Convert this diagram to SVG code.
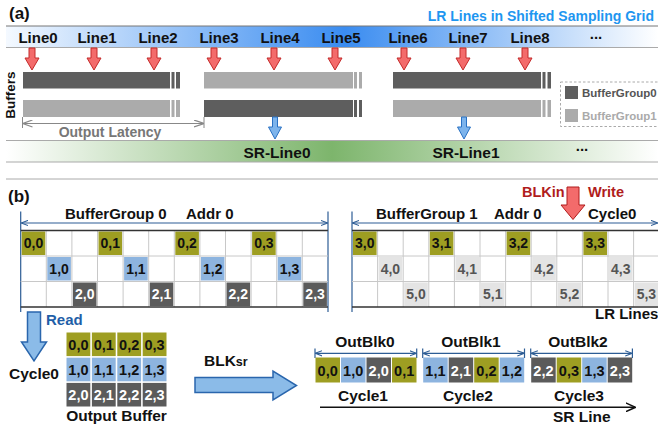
<svg xmlns="http://www.w3.org/2000/svg" width="658" height="435" viewBox="0 0 658 435">
<defs>
<style>
text{font-family:"Liberation Sans",Arial,sans-serif;font-weight:bold;fill:#111}
.lbl{font-size:15px;text-anchor:middle}
.c{font-size:14px;text-anchor:middle}
.cw{font-size:14px;text-anchor:middle;fill:#fff}
.cg{font-size:14px;text-anchor:middle;fill:#555}
.ol{fill:#9e9e22}
.bl{fill:#8db4df}
.dk{fill:#5b5b5b}
.lg{fill:#e4e4e4}
.barD{fill:#5e5e5e}
.barL{fill:#ababab}
.gl{stroke:#c8c8c8;stroke-width:1;fill:none}
.edge{stroke:#333;stroke-width:1.5;fill:none}
.vb{stroke:#2d5d95;stroke-width:1.2;fill:none}
.dim{stroke:#2d5d95;stroke-width:1.2;fill:none;marker-start:url(#mb);marker-end:url(#mb)}
.red{fill:#f36b6b;stroke:#c42a2a;stroke-width:1}
.blu{fill:#7db4ec;stroke:#2a72c4;stroke-width:1}
.bigb{fill:#8bbbe8;stroke:#2a66ad;stroke-width:1.5}
</style>
<linearGradient id="gB" gradientUnits="userSpaceOnUse" x1="6" y1="0" x2="658" y2="0">
<stop offset="0" stop-color="#f4f9ff"/><stop offset="0.52" stop-color="#3a8cf0"/><stop offset="1" stop-color="#ffffff"/>
</linearGradient>
<linearGradient id="gG" gradientUnits="userSpaceOnUse" x1="6" y1="0" x2="658" y2="0">
<stop offset="0" stop-color="#ffffff"/><stop offset="0.5" stop-color="#7db56c"/><stop offset="1" stop-color="#ffffff"/>
</linearGradient>
<marker id="mb" viewBox="0 0 8 8" refX="7.5" refY="4" markerWidth="7" markerHeight="7" markerUnits="userSpaceOnUse" orient="auto-start-reverse">
<path d="M0,1 L8,4 L0,7" fill="none" stroke="#2d5d95" stroke-width="1.2"/>
</marker>
<marker id="mg" viewBox="0 0 10 8" refX="9.5" refY="4" markerWidth="10" markerHeight="8" markerUnits="userSpaceOnUse" orient="auto-start-reverse">
<path d="M0,0.5 L10,4 L0,7.5" fill="none" stroke="#888" stroke-width="1.2"/>
</marker>
<marker id="mk" viewBox="0 0 10 10" refX="9.5" refY="5" markerWidth="10" markerHeight="10" markerUnits="userSpaceOnUse" orient="auto">
<path d="M0,0.5 L10,5 L0,9.5" fill="none" stroke="#111" stroke-width="1.5"/>
</marker>
<path id="ra" class="red" d="M-3,0 h6 v10 h4 l-7,12 l-7,-12 h4 z"/>
<path id="ba" class="blu" d="M-2.5,0 h5 v10 h4 l-6.5,12 l-6.5,-12 h4 z"/>
</defs>

<!-- (a) -->
<g id="part-a">
<text x="9" y="19" style="font-size:17px">(a)</text>
<text x="654" y="21" style="font-size:14px;text-anchor:end;fill:#1e96f0">LR Lines in Shifted Sampling Grid</text>
<g id="lr-band">
<rect x="6" y="26" width="652" height="21.5" fill="url(#gB)"/>
<line x1="6" y1="26" x2="658" y2="26" stroke="#777" stroke-width="1"/>
<line x1="6" y1="47.5" x2="658" y2="47.5" stroke="#aaa" stroke-width="1"/>
<text class="lbl" x="38" y="43">Line0</text>
<text class="lbl" x="97" y="43">Line1</text>
<text class="lbl" x="158" y="43">Line2</text>
<text class="lbl" x="219" y="43">Line3</text>
<text class="lbl" x="280" y="43">Line4</text>
<text class="lbl" x="341" y="43">Line5</text>
<text class="lbl" x="408" y="43">Line6</text>
<text class="lbl" x="468" y="43">Line7</text>
<text class="lbl" x="530" y="43">Line8</text>
<text class="lbl" x="596" y="39">...</text>
</g>
<g id="lr-arrows">
<use href="#ra" x="32" y="48"/>
<use href="#ra" x="94" y="48"/>
<use href="#ra" x="154" y="48"/>
<use href="#ra" x="214" y="48"/>
<use href="#ra" x="274" y="48"/>
<use href="#ra" x="335" y="48"/>
<use href="#ra" x="404" y="48"/>
<use href="#ra" x="463" y="48"/>
<use href="#ra" x="525" y="48"/>
</g>
<text transform="translate(15,95) rotate(-90)" style="font-size:13.5px;text-anchor:middle">Buffers</text>
<g id="buffers">
<rect class="barD" x="23" y="72" width="147" height="16.5"/>
<rect class="barD" x="171.5" y="72" width="3" height="16.5"/>
<rect class="barD" x="176" y="72" width="4" height="16.5"/>
<rect class="barL" x="23" y="100" width="147" height="17"/>
<rect class="barL" x="171.5" y="100" width="3" height="17"/>
<rect class="barL" x="176" y="100" width="4" height="17"/>
<rect class="barL" x="204" y="72" width="149" height="16.5"/>
<rect class="barL" x="354" y="72" width="3" height="16.5"/>
<rect class="barL" x="359" y="72" width="3" height="16.5"/>
<rect class="barD" x="204" y="100" width="149" height="17"/>
<rect class="barD" x="354" y="100" width="3" height="17"/>
<rect class="barD" x="359" y="100" width="3" height="17"/>
<rect class="barD" x="393" y="72" width="148" height="16.5"/>
<rect class="barD" x="542.5" y="72" width="3" height="16.5"/>
<rect class="barD" x="547.5" y="72" width="3.5" height="16.5"/>
<rect class="barL" x="393" y="100" width="148" height="17"/>
<rect class="barL" x="542.5" y="100" width="3" height="17"/>
<rect class="barL" x="547.5" y="100" width="3.5" height="17"/>
</g>
<g id="legend">
<rect x="560.5" y="82" width="100" height="44.5" fill="none" stroke="#aaa" stroke-width="1" stroke-dasharray="2.5,2"/>
<rect class="barD" x="565" y="86" width="13" height="13"/>
<rect class="barL" x="565" y="109" width="13" height="13"/>
<text x="582" y="97" style="font-size:11.5px;fill:#555">BufferGroup0</text>
<text x="582" y="120" style="font-size:11.5px;fill:#aaa">BufferGroup1</text>
</g>
<g id="latency">
<line x1="22.5" y1="117" x2="22.5" y2="128" stroke="#888" stroke-width="1"/>
<line x1="204" y1="117" x2="204" y2="128" stroke="#888" stroke-width="1"/>
<line x1="23" y1="123.5" x2="203.5" y2="123.5" stroke="#888" stroke-width="1.2" marker-start="url(#mg)" marker-end="url(#mg)"/>
<text x="110" y="137" style="font-size:14px;text-anchor:middle;fill:#777">Output Latency</text>
</g>
<g id="sr-arrows">
<use href="#ba" x="275" y="117"/>
<use href="#ba" x="464" y="117"/>
</g>
<g id="sr-band">
<rect x="6" y="140.5" width="652" height="21.5" fill="url(#gG)"/>
<line x1="6" y1="140.5" x2="658" y2="140.5" stroke="#aaa" stroke-width="1"/>
<line x1="6" y1="162" x2="658" y2="162" stroke="#aaa" stroke-width="1"/>
<line x1="6" y1="179" x2="658" y2="179" stroke="#aaa" stroke-width="1"/>
<text x="277" y="158" style="font-size:15.5px;text-anchor:middle">SR-Line0</text>
<text x="466" y="158" style="font-size:15.5px;text-anchor:middle">SR-Line1</text>
<text x="582" y="151" style="font-size:15px;text-anchor:middle">...</text>
</g>
</g>

<!-- (b) -->
<g id="part-b">
<text x="8" y="202" style="font-size:17px">(b)</text>

<g id="grid-left">
<line class="vb" x1="20.7" y1="211.5" x2="20.7" y2="312"/>
<line class="vb" x1="328" y1="211.5" x2="328" y2="312"/>
<line class="dim" x1="21.5" y1="223" x2="327.2" y2="223"/>
<text x="65" y="219" style="font-size:15px">BufferGroup 0</text>
<text x="186" y="219" style="font-size:15px">Addr 0</text>
<path class="gl" d="M20.7,256 H327.9 M20.7,281.5 H327.9 M46.3,230.5 V307 M71.9,230.5 V307 M97.5,230.5 V307 M123.1,230.5 V307 M148.7,230.5 V307 M174.3,230.5 V307 M199.9,230.5 V307 M225.5,230.5 V307 M251.1,230.5 V307 M276.7,230.5 V307 M302.3,230.5 V307"/>
<rect class="ol" x="21.7" y="231.5" width="23.6" height="23.5"/>
<rect class="ol" x="98.5" y="231.5" width="23.6" height="23.5"/>
<rect class="ol" x="175.3" y="231.5" width="23.6" height="23.5"/>
<rect class="ol" x="252.1" y="231.5" width="23.6" height="23.5"/>
<rect class="bl" x="47.3" y="257" width="23.6" height="23.5"/>
<rect class="bl" x="124.1" y="257" width="23.6" height="23.5"/>
<rect class="bl" x="200.9" y="257" width="23.6" height="23.5"/>
<rect class="bl" x="277.7" y="257" width="23.6" height="23.5"/>
<rect class="dk" x="72.9" y="282.5" width="23.6" height="23.5"/>
<rect class="dk" x="149.7" y="282.5" width="23.6" height="23.5"/>
<rect class="dk" x="226.5" y="282.5" width="23.6" height="23.5"/>
<rect class="dk" x="303.3" y="282.5" width="23.6" height="23.5"/>
<path class="edge" d="M20.7,230.5 H327.9 M20.7,307 H327.9"/>
<text class="c" x="33.5" y="248">0,0</text>
<text class="c" x="110.3" y="248">0,1</text>
<text class="c" x="187.1" y="248">0,2</text>
<text class="c" x="263.9" y="248">0,3</text>
<text class="c" x="59.1" y="273.5">1,0</text>
<text class="c" x="135.9" y="273.5">1,1</text>
<text class="c" x="212.7" y="273.5">1,2</text>
<text class="c" x="289.5" y="273.5">1,3</text>
<text class="cw" x="84.7" y="299">2,0</text>
<text class="cw" x="161.5" y="299">2,1</text>
<text class="cw" x="238.3" y="299">2,2</text>
<text class="cw" x="315.1" y="299">2,3</text>
</g>

<g id="grid-right">
<line class="vb" x1="352" y1="211.5" x2="352" y2="312"/>
<line class="dim" x1="352.8" y1="223" x2="657.5" y2="223"/>
<text x="376" y="219" style="font-size:15px">BufferGroup 1</text>
<text x="494" y="219" style="font-size:15px">Addr 0</text>
<text x="588" y="219" style="font-size:15px">Cycle0</text>
<path class="gl" d="M352,256 H659 M352,281.5 H659 M377.6,230.5 V307 M403.2,230.5 V307 M428.8,230.5 V307 M454.4,230.5 V307 M480,230.5 V307 M505.6,230.5 V307 M531.2,230.5 V307 M556.8,230.5 V307 M582.4,230.5 V307 M608,230.5 V307 M633.6,230.5 V307"/>
<rect class="ol" x="353" y="231.5" width="23.6" height="23.5"/>
<rect class="ol" x="429.8" y="231.5" width="23.6" height="23.5"/>
<rect class="ol" x="506.6" y="231.5" width="23.6" height="23.5"/>
<rect class="ol" x="583.4" y="231.5" width="23.6" height="23.5"/>
<rect class="lg" x="378.6" y="257" width="23.6" height="23.5"/>
<rect class="lg" x="455.4" y="257" width="23.6" height="23.5"/>
<rect class="lg" x="532.2" y="257" width="23.6" height="23.5"/>
<rect class="lg" x="609" y="257" width="23.6" height="23.5"/>
<rect class="lg" x="404.2" y="282.5" width="23.6" height="23.5"/>
<rect class="lg" x="481" y="282.5" width="23.6" height="23.5"/>
<rect class="lg" x="557.8" y="282.5" width="23.6" height="23.5"/>
<rect class="lg" x="634.6" y="282.5" width="23.6" height="23.5"/>
<path class="edge" d="M352,230.5 H659 M352,307 H659"/>
<text class="c" x="364.8" y="248">3,0</text>
<text class="c" x="441.6" y="248">3,1</text>
<text class="c" x="518.4" y="248">3,2</text>
<text class="c" x="595.2" y="248">3,3</text>
<text class="cg" x="390.4" y="273.5">4,0</text>
<text class="cg" x="467.2" y="273.5">4,1</text>
<text class="cg" x="544" y="273.5">4,2</text>
<text class="cg" x="620.8" y="273.5">4,3</text>
<text class="cg" x="416" y="299">5,0</text>
<text class="cg" x="492.8" y="299">5,1</text>
<text class="cg" x="569.6" y="299">5,2</text>
<text class="cg" x="646.4" y="299">5,3</text>
<text x="595" y="319" style="font-size:15px">LR Lines</text>
</g>

<g id="blkin">
<text x="522" y="197" style="font-size:14.5px;fill:#b01c1c">BLKin</text>
<text x="588" y="197" style="font-size:14.5px;fill:#b01c1c">Write</text>
<path class="red" d="M567,187 H579 V205 H585 L573,219.5 L561,205 H567 Z" style="stroke:#b01c1c"/>
</g>

<g id="read">
<path class="bigb" d="M27.5,312 H40.5 V342 H46.5 L34,361 L21.5,342 H27.5 Z"/>
<text x="46" y="325" style="font-size:15px;fill:#1f5fa8">Read</text>
<text x="9" y="379" style="font-size:15.5px">Cycle0</text>
</g>

<g id="output-buffer">
<rect class="ol" x="66.5" y="332.5" width="23.8" height="23.6"/>
<rect class="ol" x="91.9" y="332.5" width="23.8" height="23.6"/>
<rect class="ol" x="117.3" y="332.5" width="23.8" height="23.6"/>
<rect class="ol" x="142.7" y="332.5" width="23.8" height="23.6"/>
<rect class="bl" x="66.5" y="357.7" width="23.8" height="23.6"/>
<rect class="bl" x="91.9" y="357.7" width="23.8" height="23.6"/>
<rect class="bl" x="117.3" y="357.7" width="23.8" height="23.6"/>
<rect class="bl" x="142.7" y="357.7" width="23.8" height="23.6"/>
<rect class="dk" x="66.5" y="382.9" width="23.8" height="23.6"/>
<rect class="dk" x="91.9" y="382.9" width="23.8" height="23.6"/>
<rect class="dk" x="117.3" y="382.9" width="23.8" height="23.6"/>
<rect class="dk" x="142.7" y="382.9" width="23.8" height="23.6"/>
<text class="c" x="78.4" y="349.5" style="font-size:14.5px">0,0</text>
<text class="c" x="103.8" y="349.5" style="font-size:14.5px">0,1</text>
<text class="c" x="129.2" y="349.5" style="font-size:14.5px">0,2</text>
<text class="c" x="154.6" y="349.5" style="font-size:14.5px">0,3</text>
<text class="c" x="78.4" y="374.7" style="font-size:14.5px">1,0</text>
<text class="c" x="103.8" y="374.7" style="font-size:14.5px">1,1</text>
<text class="c" x="129.2" y="374.7" style="font-size:14.5px">1,2</text>
<text class="c" x="154.6" y="374.7" style="font-size:14.5px">1,3</text>
<text class="cw" x="78.4" y="399.9" style="font-size:14.5px">2,0</text>
<text class="cw" x="103.8" y="399.9" style="font-size:14.5px">2,1</text>
<text class="cw" x="129.2" y="399.9" style="font-size:14.5px">2,2</text>
<text class="cw" x="154.6" y="399.9" style="font-size:14.5px">2,3</text>
<text x="116.5" y="421" style="font-size:15.5px;text-anchor:middle">Output Buffer</text>
</g>

<g id="blksr">
<text x="204" y="366" style="font-size:15.5px">BLK<tspan style="font-size:12.5px">sr</tspan></text>
<path class="bigb" d="M195,377.5 H273 V371 L296.5,385.5 L273,400 V392.5 H195 Z"/>
</g>

<g id="outblk0">
<text x="365" y="346.5" style="font-size:15.5px;text-anchor:middle">OutBlk0</text>
<line class="vb" x1="315" y1="348.5" x2="315" y2="358"/>
<line class="vb" x1="416.7" y1="348.5" x2="416.7" y2="358"/>
<line class="dim" x1="315.6" y1="353.3" x2="416.1" y2="353.3"/>
<rect class="ol" x="315.5" y="357.5" width="24.5" height="25"/>
<rect class="bl" x="341" y="357.5" width="24.5" height="25"/>
<rect class="dk" x="366.5" y="357.5" width="24.5" height="25"/>
<rect class="ol" x="392" y="357.5" width="24.5" height="25"/>
<text class="c" x="327.7" y="375.5" style="font-size:14.5px">0,0</text>
<text class="c" x="353.2" y="375.5" style="font-size:14.5px">1,0</text>
<text class="cw" x="378.7" y="375.5" style="font-size:14.5px">2,0</text>
<text class="c" x="404.2" y="375.5" style="font-size:14.5px">0,1</text>
<text x="363" y="401" style="font-size:15.5px;text-anchor:middle">Cycle1</text>
</g>

<g id="outblk1">
<text x="471" y="346.5" style="font-size:15.5px;text-anchor:middle">OutBlk1</text>
<line class="vb" x1="422.7" y1="348.5" x2="422.7" y2="358"/>
<line class="vb" x1="524.5" y1="348.5" x2="524.5" y2="358"/>
<line class="dim" x1="423.3" y1="353.3" x2="523.9" y2="353.3"/>
<rect class="bl" x="423.2" y="357.5" width="24.5" height="25"/>
<rect class="dk" x="448.7" y="357.5" width="24.5" height="25"/>
<rect class="ol" x="474.2" y="357.5" width="24.5" height="25"/>
<rect class="bl" x="499.7" y="357.5" width="24.5" height="25"/>
<text class="c" x="435.4" y="375.5" style="font-size:14.5px">1,1</text>
<text class="cw" x="460.9" y="375.5" style="font-size:14.5px">2,1</text>
<text class="c" x="486.4" y="375.5" style="font-size:14.5px">0,2</text>
<text class="c" x="511.9" y="375.5" style="font-size:14.5px">1,2</text>
<text x="468" y="401" style="font-size:15.5px;text-anchor:middle">Cycle2</text>
</g>

<g id="outblk2">
<text x="578" y="346.5" style="font-size:15.5px;text-anchor:middle">OutBlk2</text>
<line class="vb" x1="530.7" y1="348.5" x2="530.7" y2="358"/>
<line class="vb" x1="632.4" y1="348.5" x2="632.4" y2="358"/>
<line class="dim" x1="531.3" y1="353.3" x2="631.8" y2="353.3"/>
<rect class="dk" x="531.2" y="357.5" width="24.5" height="25"/>
<rect class="ol" x="556.7" y="357.5" width="24.5" height="25"/>
<rect class="bl" x="582.2" y="357.5" width="24.5" height="25"/>
<rect class="dk" x="607.7" y="357.5" width="24.5" height="25"/>
<text class="cw" x="543.4" y="375.5" style="font-size:14.5px">2,2</text>
<text class="c" x="568.9" y="375.5" style="font-size:14.5px">0,3</text>
<text class="c" x="594.4" y="375.5" style="font-size:14.5px">1,3</text>
<text class="cw" x="619.9" y="375.5" style="font-size:14.5px">2,3</text>
<text x="579" y="401" style="font-size:15.5px;text-anchor:middle">Cycle3</text>
</g>

<g id="connectors">
<line x1="320" y1="407.3" x2="635" y2="407.3" stroke="#111" stroke-width="1.5" marker-end="url(#mk)"/>
</g>
<text x="553" y="421.5" style="font-size:15.5px">SR Line</text>
</g>
</svg>
